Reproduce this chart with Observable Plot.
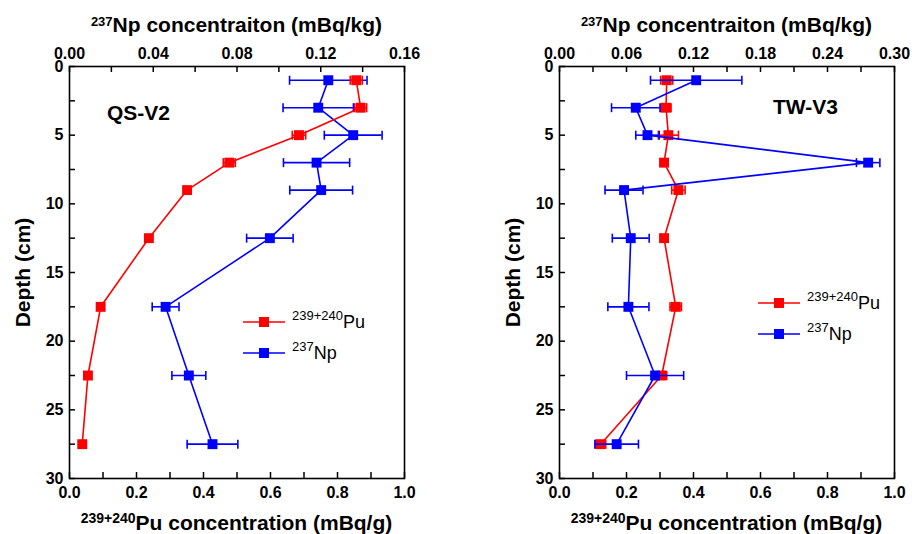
<!DOCTYPE html>
<html><head><meta charset="utf-8">
<script src="https://cdn.jsdelivr.net/npm/d3@7"></script>
<script src="https://cdn.jsdelivr.net/npm/@observablehq/plot@0.6"></script>
<style>
body{margin:0;background:#fff;}
#root{position:relative;width:912px;height:534px;overflow:hidden;font-family:"Liberation Sans",Arial,sans-serif;color:#000;}
.layer{position:absolute;top:0;width:456px;height:534px;}
.layer svg{position:absolute;left:0;top:0;}
.t{position:absolute;white-space:nowrap;line-height:1;}
.b{font-weight:bold;}
.sup{position:relative;}
</style></head><body><div id="root"></div>
<script>
// ---- data ----
const depth = [1, 3, 5, 7, 9, 12.5, 17.5, 22.5, 27.5];
// QS-V2
const qsPu    = [0.856, 0.869, 0.685, 0.477, 0.351, 0.237, 0.093, 0.055, 0.038];
const qsPuErr = [0.018, 0.018, 0.020, 0.018, 0, 0, 0, 0, 0];
const qsNp    = [0.1236, 0.1188, 0.1355, 0.1180, 0.1202, 0.0957, 0.0459, 0.0570, 0.0683];
const qsNpErr = [0.0185, 0.0168, 0.0138, 0.0158, 0.0150, 0.0111, 0.0064, 0.0081, 0.0121];
// TW-V3
const twPu    = [0.320, 0.318, 0.325, 0.312, 0.355, 0.312, 0.347, 0.305, 0.123];
const twPuErr = [0.018, 0.015, 0.030, 0, 0.020, 0.010, 0.017, 0.015, 0.015];
const twNp    = [0.1224, 0.0683, 0.0788, 0.2764, 0.0578, 0.0638, 0.0617, 0.0856, 0.0512];
const twNpErr = [0.0409, 0.0217, 0.0105, 0.0105, 0.0170, 0.0165, 0.0184, 0.0256, 0.0195];

const puTickLabels = [0, 0.2, 0.4, 0.6, 0.8, 1.0];
const puTicks = [0, 0.1, 0.2, 0.3, 0.4, 0.5, 0.6, 0.7, 0.8, 0.9, 1.0];
const depthLabels = [0, 5, 10, 15, 20, 25, 30];
const depthTicks = [0, 2.5, 5, 7.5, 10, 12.5, 15, 17.5, 20, 22.5, 25, 27.5, 30];
const qsNpLabels = [0, 0.04, 0.08, 0.12, 0.16];
const qsNpTicks = [0, 0.02, 0.04, 0.06, 0.08, 0.10, 0.12, 0.14, 0.16];
const twNpLabels = [0, 0.06, 0.12, 0.18, 0.24, 0.30];
const twNpTicks = [0, 0.03, 0.06, 0.09, 0.12, 0.15, 0.18, 0.21, 0.24, 0.27, 0.30];

const RED = "#ff0000", BLUE = "#0000ff";
const W = 456, H = 534, mL = 69, mR = 52, mT = 66, mB = 56;
const innerW = W - mL - mR, innerH = H - mT - mB;
const capSym = {draw(ctx, size) { const r = Math.sqrt(size / Math.PI); ctx.moveTo(0, -r); ctx.lineTo(0, r); }};
const baseStyle = {background: "transparent", fontFamily: "'Liberation Sans', Arial, sans-serif", fontSize: "16px", fontWeight: "bold", color: "#000", overflow: "visible"};

function rows(vals, errs) { return depth.map((d, i) => ({depth: d, v: vals[i], e: errs[i]})); }

function seriesMarks(data, color) {
  const we = data.filter(d => d.e > 0);
  return [
    Plot.line(data, {x: "v", y: "depth", stroke: color, strokeWidth: 1.6}),
    Plot.ruleY(we, {y: "depth", x1: d => d.v - d.e, x2: d => d.v + d.e, stroke: color, strokeWidth: 1.6}),
    Plot.dot(we, {x: d => d.v - d.e, y: "depth", symbol: capSym, r: 4.5, stroke: color, strokeWidth: 1.6, fill: "none"}),
    Plot.dot(we, {x: d => d.v + d.e, y: "depth", symbol: capSym, r: 4.5, stroke: color, strokeWidth: 1.6, fill: "none"}),
    Plot.dot(data, {x: "v", y: "depth", symbol: "square", r: 5.6, fill: color, stroke: "none"})
  ];
}

function puPlot(pu, puErr) {
  return Plot.plot({
    width: W, height: H, marginLeft: mL, marginRight: mR, marginTop: mT, marginBottom: mB,
    style: baseStyle,
    x: {domain: [0, 1]},
    y: {domain: [0, 30], reverse: true},
    marks: [
      Plot.tickX(puTicks, {x: d => d, insetTop: innerH - 6, stroke: "#000", strokeWidth: 1.5}),
      Plot.tickY(depthTicks, {y: d => d, insetRight: innerW - 6, stroke: "#000", strokeWidth: 1.5}),
      Plot.axisX({anchor: "bottom", ticks: puTickLabels, tickFormat: d3.format(".1f"), tickSize: 0, tickPadding: 8, label: null}),
      Plot.axisY({anchor: "left", ticks: depthLabels, tickSize: 0, tickPadding: 6, label: null}),
      ...seriesMarks(rows(pu, puErr), RED),
      Plot.frame({stroke: "#000", strokeWidth: 1.6})
    ]
  });
}

function npPlot(np, npErr, npMax, labels, ticks) {
  return Plot.plot({
    width: W, height: H, marginLeft: mL, marginRight: mR, marginTop: mT, marginBottom: mB,
    style: baseStyle,
    x: {domain: [0, npMax]},
    y: {domain: [0, 30], reverse: true, axis: null},
    marks: [
      Plot.tickX(ticks, {x: d => d, insetBottom: innerH - 6, stroke: "#000", strokeWidth: 1.5}),
      Plot.axisX({anchor: "top", ticks: labels, tickFormat: d3.format(".2f"), tickSize: 0, tickPadding: 8, label: null}),
      ...seriesMarks(rows(np, npErr), BLUE)
    ]
  });
}

const root = document.getElementById("root");
function addText(html, left, top, fs, cls, extra) {
  const d = document.createElement("div");
  d.className = "t " + (cls || "");
  d.style.left = left + "px"; d.style.top = top + "px"; d.style.fontSize = fs + "px";
  if (extra) Object.assign(d.style, extra);
  d.innerHTML = html;
  root.appendChild(d);
  return d;
}
function centered(html, cx, top, fs, cls) {
  return addText(html, cx - 250, top, fs, cls, {width: "500px", textAlign: "center"});
}

function panel(offset, cfg) {
  const layer = document.createElement("div");
  layer.className = "layer"; layer.style.left = offset + "px";
  root.appendChild(layer);
  const a = puPlot(cfg.pu, cfg.puErr);
  const b = npPlot(cfg.np, cfg.npErr, cfg.npMax, cfg.npLabels, cfg.npTicks);
  if (cfg.npOnTop) { layer.appendChild(a); layer.appendChild(b); }
  else { layer.appendChild(b); layer.appendChild(a); }

  const cx = offset + mL + innerW / 2;
  // top title
  centered('<span class="sup" style="font-size:13px;top:-6px">237</span>Np concentraiton (mBq/kg)', cx, 14, 21, "b");
  // bottom title
  centered('<span class="sup" style="font-size:14px;top:-7px">239+240</span>Pu concentration (mBq/g)', cx, 512, 21, "b");
  // y title
  addText("Depth (cm)", offset + 22 - 100, 272 - 10.5, 21, "b", {width: "200px", textAlign: "center", transform: "rotate(-90deg)", transformOrigin: "50% 50%"});
  // panel label
  addText(cfg.label, cfg.labelX, cfg.labelY, 21, "b");
  // legend
  const items = [["239+240", "Pu", RED], ["237", "Np", BLUE]];
  items.forEach(([sup, name, color], i) => {
    const y = cfg.legY + i * 31;
    const s = document.createElementNS("http://www.w3.org/2000/svg", "svg");
    s.setAttribute("width", 44); s.setAttribute("height", 20);
    s.style.position = "absolute"; s.style.left = (cfg.legX - 1) + "px"; s.style.top = (y - 10) + "px";
    s.innerHTML = `<line x1="1" x2="43" y1="10" y2="10" stroke="${color}" stroke-width="1.6"/><rect x="17" y="5" width="10" height="10" fill="${color}"/>`;
    root.appendChild(s);
    addText(`<span class="sup" style="font-size:13px;top:-8px">${sup}</span>${name}`, cfg.legX + 49, y - 9.5, 18, "");
  });
}

panel(0, {pu: qsPu, puErr: qsPuErr, np: qsNp, npErr: qsNpErr, npMax: 0.16, npLabels: qsNpLabels, npTicks: qsNpTicks,
  label: "QS-V2", labelX: 107, labelY: 102, legX: 243, legY: 322, npOnTop: false});
panel(490, {pu: twPu, puErr: twPuErr, np: twNp, npErr: twNpErr, npMax: 0.30, npLabels: twNpLabels, npTicks: twNpTicks,
  label: "TW-V3", labelX: 773, labelY: 96, legX: 758, legY: 303, npOnTop: true});
</script></body></html>
